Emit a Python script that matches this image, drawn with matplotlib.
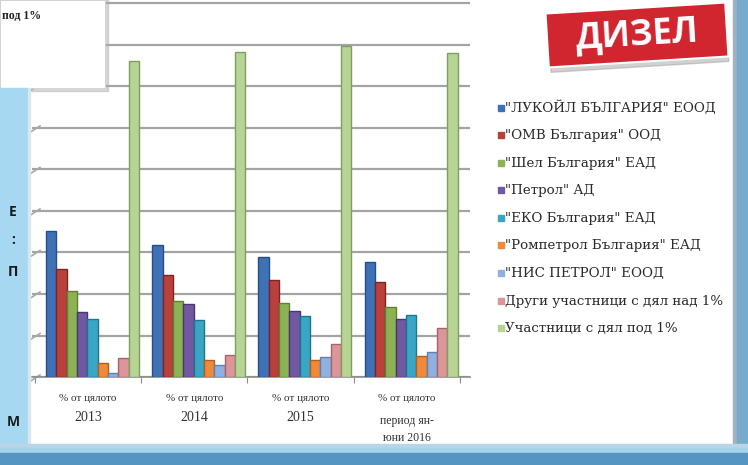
import matplotlib.pyplot as plt
import numpy as np
import matplotlib.transforms as mtransforms
from matplotlib.patches import Rectangle

# --- datos (% del total, diesel) ---
periods = ["2013", "2014", "2015", "период ян-\nюни 2016"]
label_top = "% от цялото"
companies = [
    '"ЛУКОЙЛ БЪЛГАРИЯ" ЕООД',
    '"ОМВ България" ООД',
    '"Шел България" ЕАД',
    '"Петрол" АД',
    '"ЕКО България" ЕАД',
    '"Ромпетрол България" ЕАД',
    '"НИС ПЕТРОЛ" ЕООД',
    "Други участници с дял над 1%",
    "Участници с дял под 1%",
]
lukoil = [17.6, 15.9, 14.5, 13.9]
omv = [13.0, 12.3, 11.7, 11.5]
shell = [10.4, 9.1, 8.9, 8.4]
petrol = [7.8, 8.8, 7.9, 7.0]
eko = [7.0, 6.9, 7.3, 7.5]
rompetrol = [1.7, 2.0, 2.0, 2.5]
nis = [0.5, 1.4, 2.4, 3.0]
others_above = [2.3, 2.6, 4.0, 5.9]
others_below = [38.1, 39.2, 39.9, 39.0]
series = [lukoil, omv, shell, petrol, eko, rompetrol, nis, others_above, others_below]

colors = ["#3f72b5", "#b8403d", "#8db255", "#7059a0", "#3aa5c4",
          "#ee8a3a", "#8fb0e0", "#dc9598", "#b6d494"]
edges = ["#24508a", "#7e2522", "#5f7f33", "#4a3670", "#1f7490",
         "#b0601e", "#5f80b0", "#a86468", "#7f9f5e"]

W, H = 748, 465
SERIF = "Liberation Serif"

fig = plt.figure(figsize=(W / 100, H / 100), dpi=100)

# fondo (panel blanco)
bg = fig.add_axes([0, 0, 1, 1], zorder=0)
bg.set_xlim(0, W)
bg.set_ylim(H, 0)
bg.axis("off")
bg.add_patch(Rectangle((0, 0), W, H, color="white"))

# --- grafico de barras ---
px_unit = 106.25   # pixeles por grupo
x0_px = 35         # borde izquierdo del primer grupo
y0_px = 377        # piso
px_per_pct = 8.3

def px2x(px):
    return -0.5 + (px - x0_px) / px_unit

ax = fig.add_axes([32 / W, (H - y0_px) / H, (470 - 32) / W, y0_px / H], zorder=1)
ax.patch.set_alpha(0)
ax.set_xlim(px2x(32), px2x(470))
ax.set_ylim(0, y0_px / px_per_pct)
ax.set_yticks(np.arange(0, 46, 5))
ax.yaxis.grid(True, color="#a4a4a4", linewidth=1.6)
ax.set_axisbelow(True)
ax.tick_params(axis="y", length=0, labelleft=False)
for s in ["top", "right", "left"]:
    ax.spines[s].set_visible(False)
ax.spines["bottom"].set_color("#8c8c8c")
ax.spines["bottom"].set_linewidth(1.2)
ax.set_xticks(np.arange(-0.5, 4, 1))
ax.tick_params(axis="x", length=4, color="#8c8c8c", labelbottom=False)

# pared izquierda (efecto 3D)
for yv in np.arange(0, 46, 5):
    ax.plot([px2x(31), px2x(40)], [yv - 0.45, yv + 0.25], color="#a8a8a8",
            lw=1.2, clip_on=False)

bar_w = 10.33 / px_unit
start = 11 / px_unit
xg = np.arange(len(periods))
for k, vals in enumerate(series):
    xs = xg - 0.5 + start + k * bar_w
    ax.bar(xs, vals, width=bar_w, align="edge", color=colors[k],
           edgecolor=edges[k], linewidth=1.0, zorder=3)

# etiquetas del eje x
for i, p in enumerate(periods):
    ax.text(i, -21 / y0_px, label_top, transform=ax.get_xaxis_transform(),
            ha="center", va="center", fontsize=8, family=SERIF, color="#333333")
    lines = p.split("\n")
    if len(lines) == 1:
        ax.text(i, -40 / y0_px, lines[0], transform=ax.get_xaxis_transform(),
                ha="center", va="center", fontsize=10, family=SERIF, color="#333333")
    else:
        for j, ln in enumerate(lines):
            ax.text(i, -(44 + 17 * j) / y0_px, ln, transform=ax.get_xaxis_transform(),
                    ha="center", va="center", fontsize=8.5, family=SERIF, color="#333333")

# --- capa superior: leyenda, marcos, etiqueta ---
fg = fig.add_axes([0, 0, 1, 1], zorder=2)
fg.patch.set_alpha(0)
fg.set_xlim(0, W)
fg.set_ylim(H, 0)
fg.axis("off")

leg_y = [108, 135, 163, 190, 218, 245, 273, 301, 328]
for k, name in enumerate(companies):
    fg.add_patch(Rectangle((498, leg_y[k] - 3), 6, 6, color=colors[k]))
    fg.text(505, leg_y[k], name, ha="left", va="center", fontsize=9.6,
            family="DejaVu Serif", color="#2a2a2a")

# recuadro superior izquierdo (otro grafico)
fg.add_patch(Rectangle((0, 0), 108, 91, color="#b0b0b0", alpha=0.5))
fg.add_patch(Rectangle((0, 0), 105, 88, facecolor="white", edgecolor="#d0d0d0", lw=0.6))
fg.text(2, 16, "под 1%", ha="left", va="center", fontsize=8.5,
        family=SERIF, color="#222222", weight="bold")

# franja izquierda
fg.add_patch(Rectangle((0, 88), 28, 360, color="#a7d8f2"))
fg.add_patch(Rectangle((28, 88), 2, 360, color="#d8e6ee"))
for txt, yy in [("Е", 212), (":", 240), ("П", 272), ("М", 422)]:
    fg.text(13, yy, txt, ha="center", va="center", fontsize=10,
            family="Open Sans", weight="bold", color="#1a1a1a")

# franja derecha
fg.add_patch(Rectangle((733, 0), 4, H, color="#9fb2bf"))
fg.add_patch(Rectangle((737, 0), 11, H, color="#78aacb"))

# franja inferior
fg.add_patch(Rectangle((0, 444), W, 4, color="#b9d6e6"))
fg.add_patch(Rectangle((0, 448), W, 5, color="#a6d3ec"))
fg.add_patch(Rectangle((0, 453), W, 12, color="#5595c2"))

# etiqueta ДИЗЕЛ
cx, cy = 637, 35
rot = mtransforms.Affine2D().rotate_deg_around(cx, cy, -3.5) + fg.transData
fg.add_patch(Rectangle((cx - 88, cy - 22), 178, 54, color="#9a9a9a", alpha=0.45,
                       transform=rot))
fg.add_patch(Rectangle((cx - 90, cy - 27), 180, 54, facecolor="#d12530",
                       edgecolor="white", lw=1.5, transform=rot))
fg.text(cx, cy + 1, "ДИЗЕЛ", ha="center", va="center", rotation=3.5,
        fontsize=25, family="Open Sans", weight="bold", color="white")

fig.savefig("out.png", dpi=100)
